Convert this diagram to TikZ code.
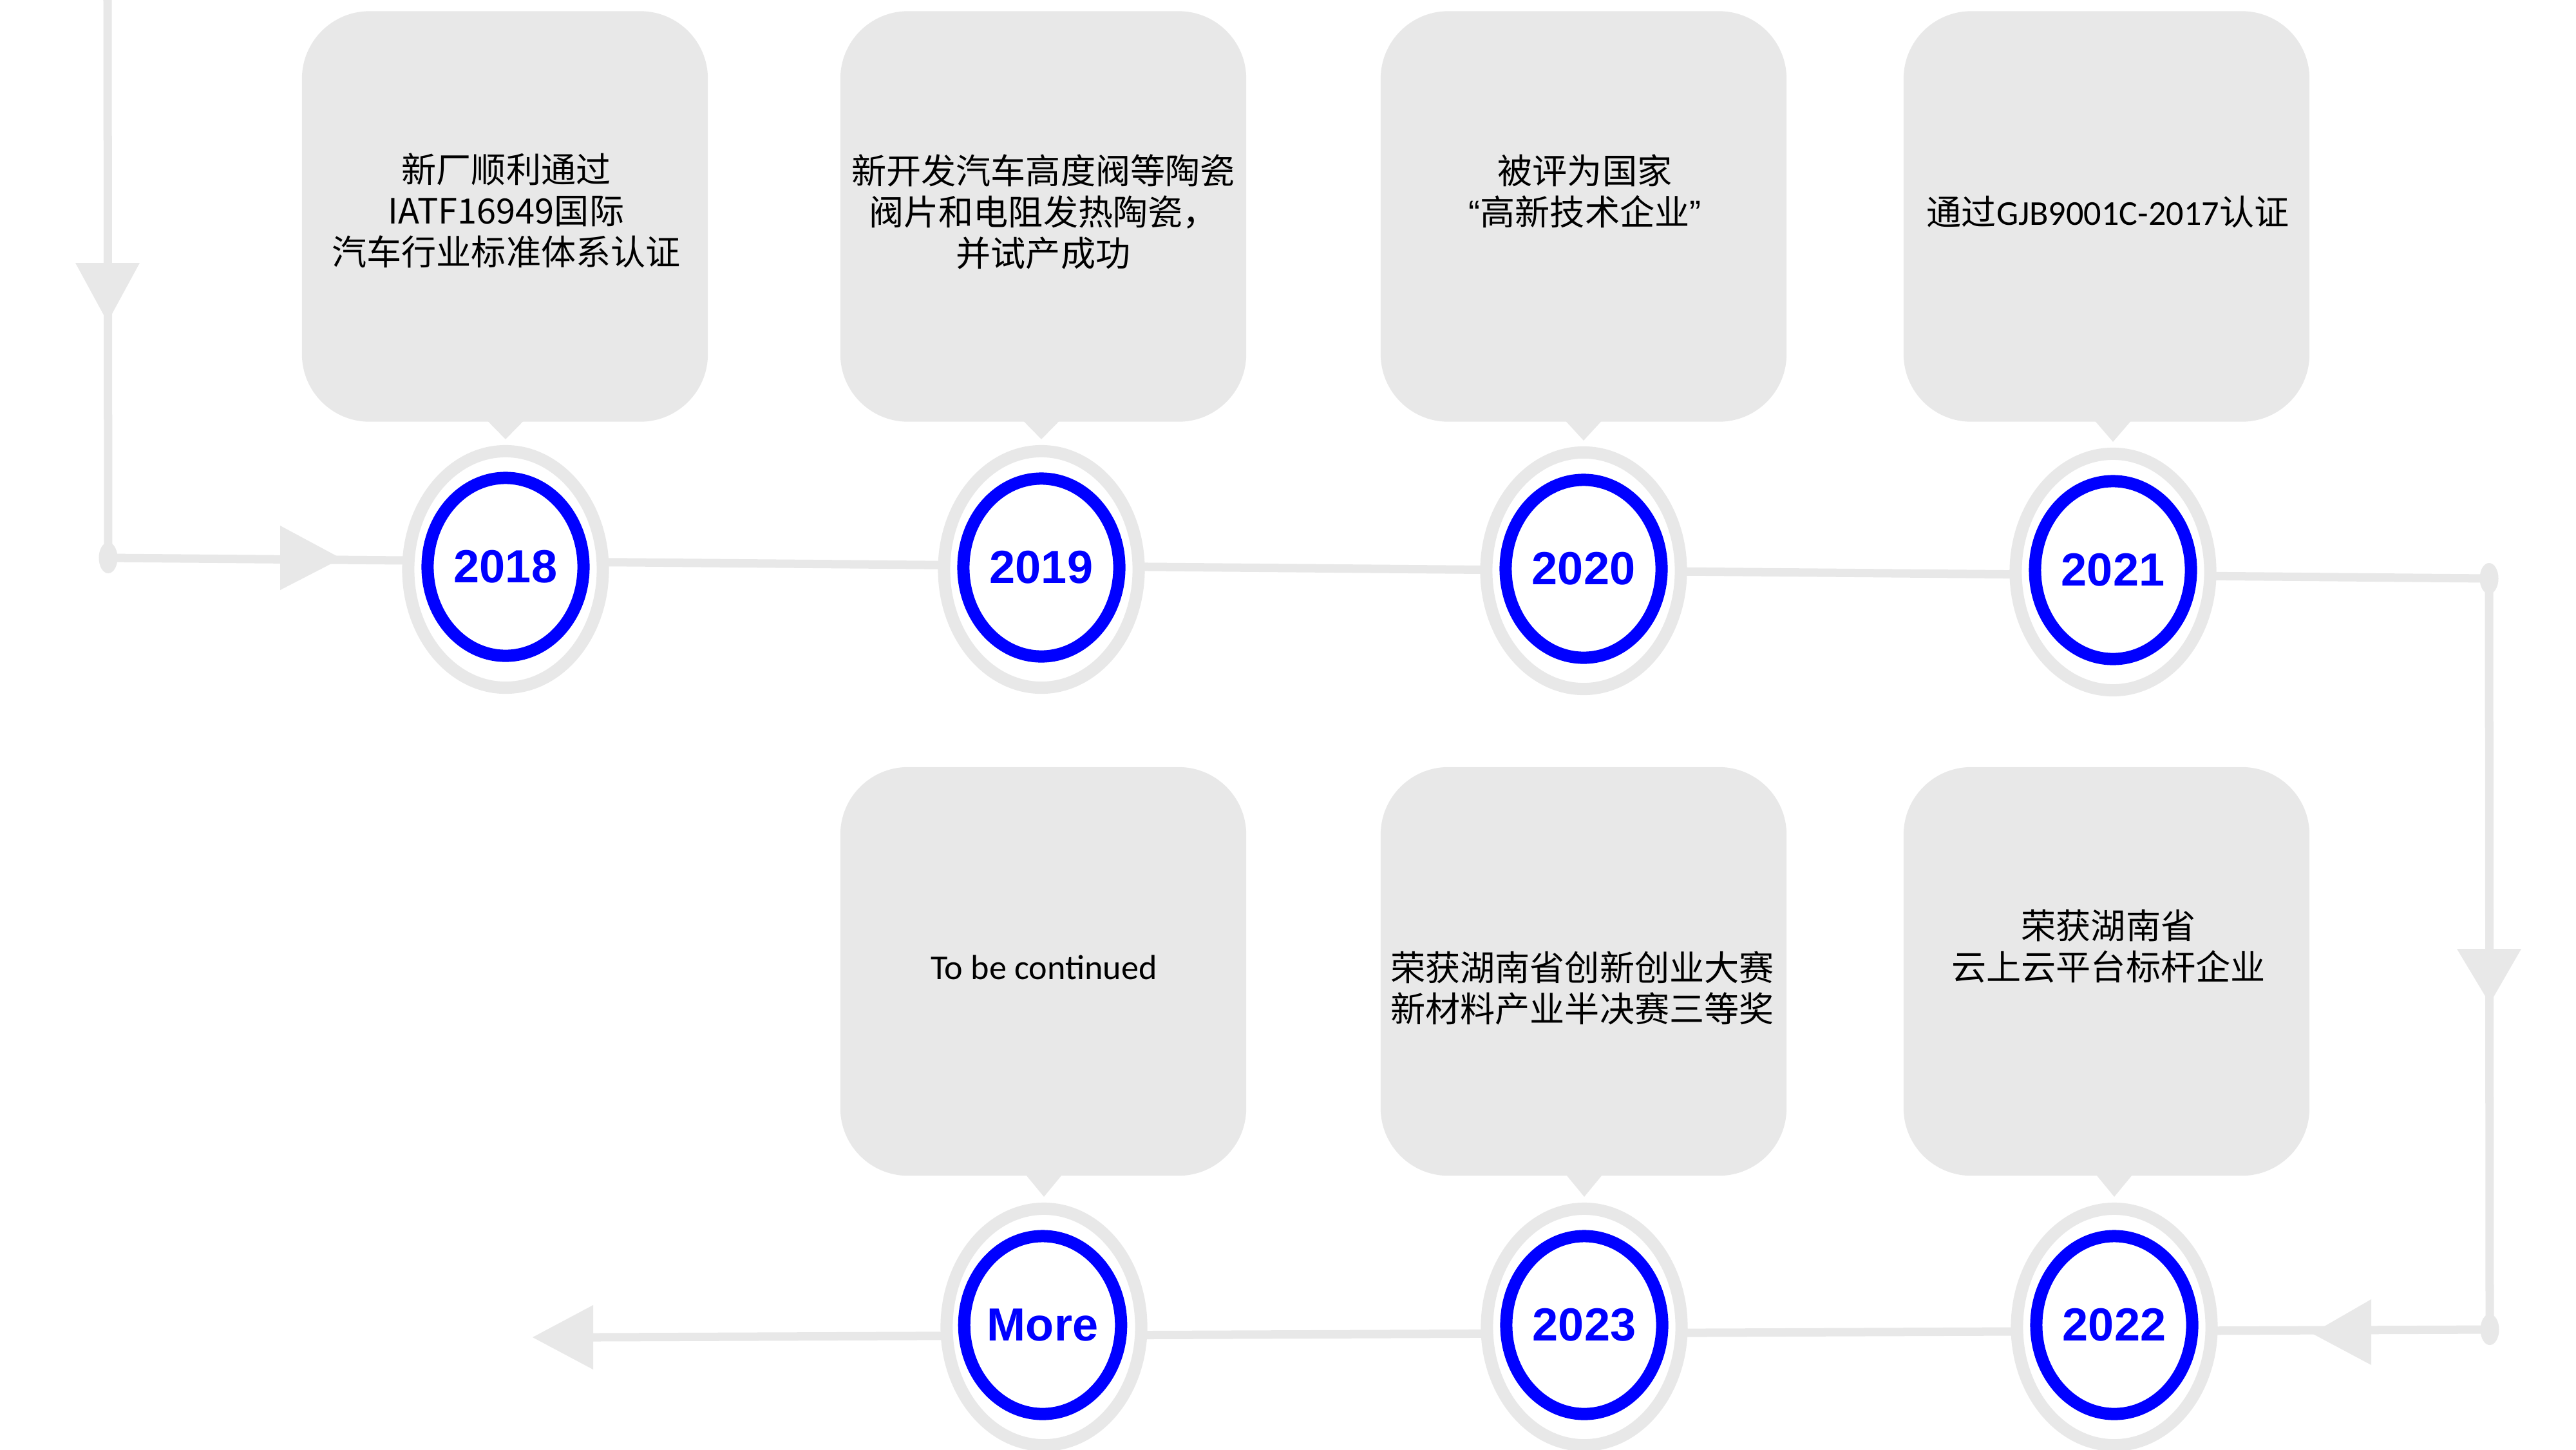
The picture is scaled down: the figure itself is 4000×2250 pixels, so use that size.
\documentclass[tikz,border=0pt]{standalone}
\usepackage{fontspec}
\newfontfamily\cjk{Noto Sans CJK SC}
\newfontfamily\yearfont{Liberation Sans}
\newfontfamily\carlito{Carlito}
\newfontfamily\qfont{Liberation Sans}
\usetikzlibrary{shapes.geometric,calc}
\definecolor{lgrey}{RGB}{232,232,232}
\definecolor{yblue}{RGB}{0,0,255}
\begin{document}
\begin{tikzpicture}[x=0.01cm,y=-0.01cm,
  conn/.style={draw=lgrey, line width=0.13cm},
  dotnode/.style={ellipse, fill=lgrey, minimum width=0.29cm, minimum height=0.48cm, inner sep=0pt},
  ringnode/.style={ellipse, draw=lgrey, line width=0.19cm, fill=white, minimum width=3.02cm, minimum height=3.67cm, inner sep=0pt},
  yearnode/.style={ellipse, draw=yblue, line width=0.19cm, fill=white, minimum width=2.42cm, minimum height=2.76cm, inner sep=0pt, text=yblue, font=\yearfont\bfseries\fontsize{20.5pt}{24pt}\selectfont},
  callout/.style={rectangle, fill=lgrey, rounded corners=1.05cm, minimum width=6.3cm, inner sep=0pt},
  desc/.style={align=center, font=\cjk\fontsize{15.4pt}{18.2pt}\selectfont, text=black, inner sep=0pt},
  latdesc/.style={align=center, font=\carlito\fontsize{15.4pt}{18.2pt}\selectfont, text=black, inner sep=0pt},
  headtri/.style={fill=lgrey}
]
\path[use as bounding box, fill=white] (0,0) rectangle (4000,2250);

% junction dots and free ends
\node[dotnode] (dL) at (168,866) {};
\node[dotnode] (dTR) at (3865,898) {};
\node[dotnode] (dBR) at (3866,2064) {};
\coordinate (topend) at (167,0);
\coordinate (endL) at (921,2076);

% connectors
\draw[conn] (topend) -- (dL.center);
\draw[conn] (dL.center) -- (dTR.center);
\draw[conn] (dTR.center) -- (dBR.center);
\draw[conn] (dBR.center) -- (endL);

% arrowheads along the path
\fill[headtri] (117,408) -- (217,408) -- (167,500) -- cycle;
\fill[headtri] (435,816) -- (435,916) -- (530,867) -- cycle;
\fill[headtri] (3815,1473) -- (3915,1473) -- (3866,1558) -- cycle;
\fill[headtri] (3682,2017) -- (3682,2119) -- (3590,2070) -- cycle;
\fill[headtri] (endL) ++(0,-50) -- ++(0,100) -- (827,2076) -- cycle;

% year rings, top row
\node[ringnode] (r2018) at (785,884) {};
\node[yearnode] (y2018) at (785,880) {2018};
\node[ringnode] (r2019) at (1617,884) {};
\node[yearnode] (y2019) at (1617,881) {2019};
\node[ringnode] (r2020) at (2459,886) {};
\node[yearnode] (y2020) at (2459,883) {2020};
\node[ringnode] (r2021) at (3281,888) {};
\node[yearnode] (y2021) at (3281,885) {2021};

% year rings, bottom row
\node[ringnode] (rMore) at (1621,2060) {};
\node[yearnode] (yMore) at (1619,2057) {More};
\node[ringnode] (r2023) at (2460,2060) {};
\node[yearnode] (y2023) at (2460,2057) {2023};
\node[ringnode] (r2022) at (3283,2060) {};
\node[yearnode] (y2022) at (3283,2057) {2022};

% callout boxes, top row
\node[callout, minimum height=6.37cm] (b2018) at (784,336) {};
\node[callout, minimum height=6.37cm] (b2019) at (1620,336) {};
\node[callout, minimum height=6.37cm] (b2020) at (2459,336) {};
\node[callout, minimum height=6.37cm] (b2021) at (3271,336) {};
% callout boxes, bottom row
\node[callout, minimum height=6.34cm] (bMore) at (1620,1508) {};
\node[callout, minimum height=6.34cm] (b2023) at (2459,1508) {};
\node[callout, minimum height=6.34cm] (b2022) at (3271,1508) {};

% pointers
\foreach \k in {2018,2019,2020,2021,More,2023,2022}{
  \fill[lgrey] ($(b\k.south -| r\k.north)+(-28,-2)$) -- ($(r\k.north)+(0,-9)$) -- ($(b\k.south -| r\k.north)+(28,-2)$) -- cycle;
}

% texts
\node[desc] (t2018) at (786,327) {新厂顺利通过\\IATF16949国际\\汽车行业标准体系认证};
\node[desc] (t2019) at (1620,329) {新开发汽车高度阀等陶瓷\\阀片和电阻发热陶瓷，\\并试产成功};
\node[desc] (t2020) at (2461,297) {被评为国家\\{\qfont “}高新技术企业{\qfont ”}};
\node[desc] (t2021) at (3273,329) {通过{\carlito GJB9001C-2017}认证};
\node[latdesc] (tMore) at (1621,1502) {To be continued};
\node[desc] (t2023) at (2457,1534) {荣获湖南省创新创业大赛\\新材料产业半决赛三等奖};
\node[desc] (t2022) at (3274,1469) {荣获湖南省\\云上云平台标杆企业};
\end{tikzpicture}
\end{document}
